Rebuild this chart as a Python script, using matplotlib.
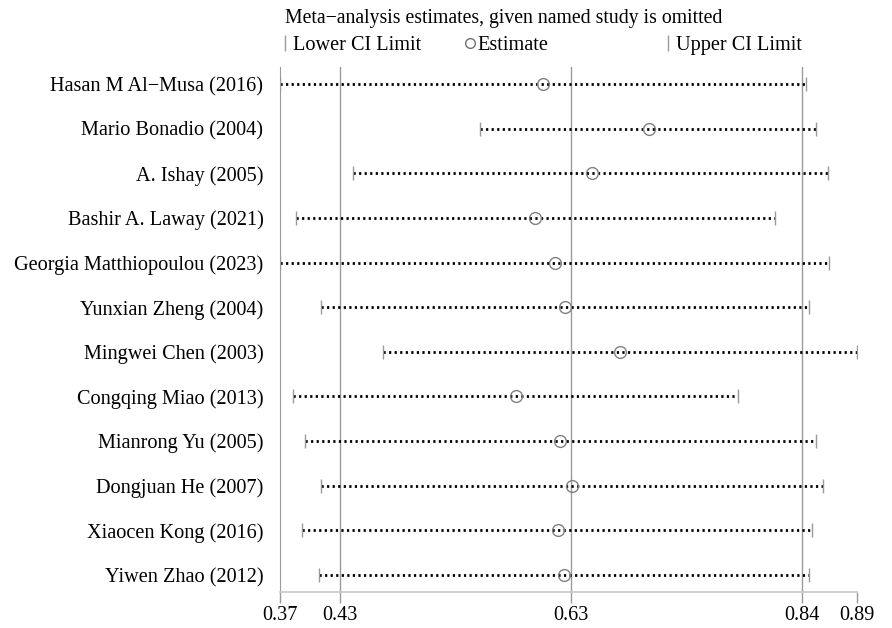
import matplotlib.pyplot as plt
from matplotlib.lines import Line2D

plt.rcParams['font.family'] = ['Liberation Serif', 'DejaVu Serif']

# studies (top to bottom) and leave-one-out estimates with CI limits
studies = [
    "Hasan M Al\u2212Musa (2016)",
    "Mario Bonadio (2004)",
    "A. Ishay (2005)",
    "Bashir A. Laway (2021)",
    "Georgia Matthiopoulou (2023)",
    "Yunxian Zheng (2004)",
    "Mingwei Chen (2003)",
    "Congqing Miao (2013)",
    "Mianrong Yu (2005)",
    "Dongjuan He (2007)",
    "Xiaocen Kong (2016)",
    "Yiwen Zhao (2012)",
]
estimate = [0.607, 0.702, 0.651, 0.600, 0.618, 0.627, 0.676, 0.583, 0.622, 0.633, 0.620, 0.626]
lower_ci = [0.370, 0.550, 0.436, 0.384, 0.370, 0.407, 0.463, 0.382, 0.392, 0.407, 0.390, 0.405]
upper_ci = [0.844, 0.853, 0.864, 0.816, 0.865, 0.847, 0.890, 0.783, 0.853, 0.859, 0.849, 0.847]

# overall estimate and its CI (reference lines), axis ticks
ref_lines = [0.424, 0.632, 0.840]
tick_pos = [0.370, 0.424, 0.632, 0.840, 0.890]
tick_labels = ["0.37", "0.43", "0.63", "0.84", "0.89"]

fig = plt.figure(figsize=(8.92, 6.28), dpi=100)
ax = fig.add_axes([0.314, 0.0573, 0.647, 0.836])

grey = "#9a9a9a"
ypos = list(range(len(studies), 0, -1))

for x in ref_lines:
    ax.axvline(x, color=grey, lw=1.0, zorder=1)

for y, lo, est, hi in zip(ypos, lower_ci, estimate, upper_ci):
    ax.plot([lo, hi], [y, y], color="black", lw=2.0, linestyle=(0, (0.8, 1.2)), zorder=2)
    ax.plot([lo, hi], [y, y], linestyle="none", marker="|", markersize=10,
            color=grey, markeredgewidth=1.0, zorder=3)
    ax.plot(est, y, linestyle="none", marker="o", markersize=8.5,
            markerfacecolor="none", markeredgecolor="#808080", markeredgewidth=1.0, zorder=4)

ax.set_xlim(tick_pos[0], tick_pos[-1])
ax.set_ylim(0.62, 12.38)
ax.set_yticks(ypos)
ax.set_yticklabels(studies, fontsize=14.6)
ax.tick_params(axis="y", length=0, pad=12)
ax.set_xticks(tick_pos)
ax.set_xticklabels(tick_labels, fontsize=14.6)
ax.tick_params(axis="x", length=8, width=1.0, color=grey, pad=2)

for s in ["top", "right"]:
    ax.spines[s].set_visible(False)
ax.spines["left"].set_color(grey)
ax.spines["bottom"].set_color("#c8c8c8")
ax.spines["bottom"].set_linewidth(1.2)

fig.text(0.320, 0.971, "Meta\u2212analysis estimates, given named study is omitted",
         fontsize=14.2, va="center", ha="left")

legend_items = [
    ("Lower CI Limit", "|", 0.314),
    ("Estimate", "o", 0.521),
    ("Upper CI Limit", "|", 0.743),
]
for label, mk, xpos in legend_items:
    if mk == "o":
        h = Line2D([], [], linestyle="none", marker="o", markersize=7,
                   markerfacecolor="none", markeredgecolor="#707070")
    else:
        h = Line2D([], [], linestyle="none", marker="|", markersize=11, color=grey)
    fig.legend([h], [label], loc="center left", bbox_to_anchor=(xpos, 0.928),
               frameon=False, fontsize=14.6, handlelength=0.5, handletextpad=0.15,
               borderpad=0, borderaxespad=0)

fig.savefig("out.png", dpi=100)
